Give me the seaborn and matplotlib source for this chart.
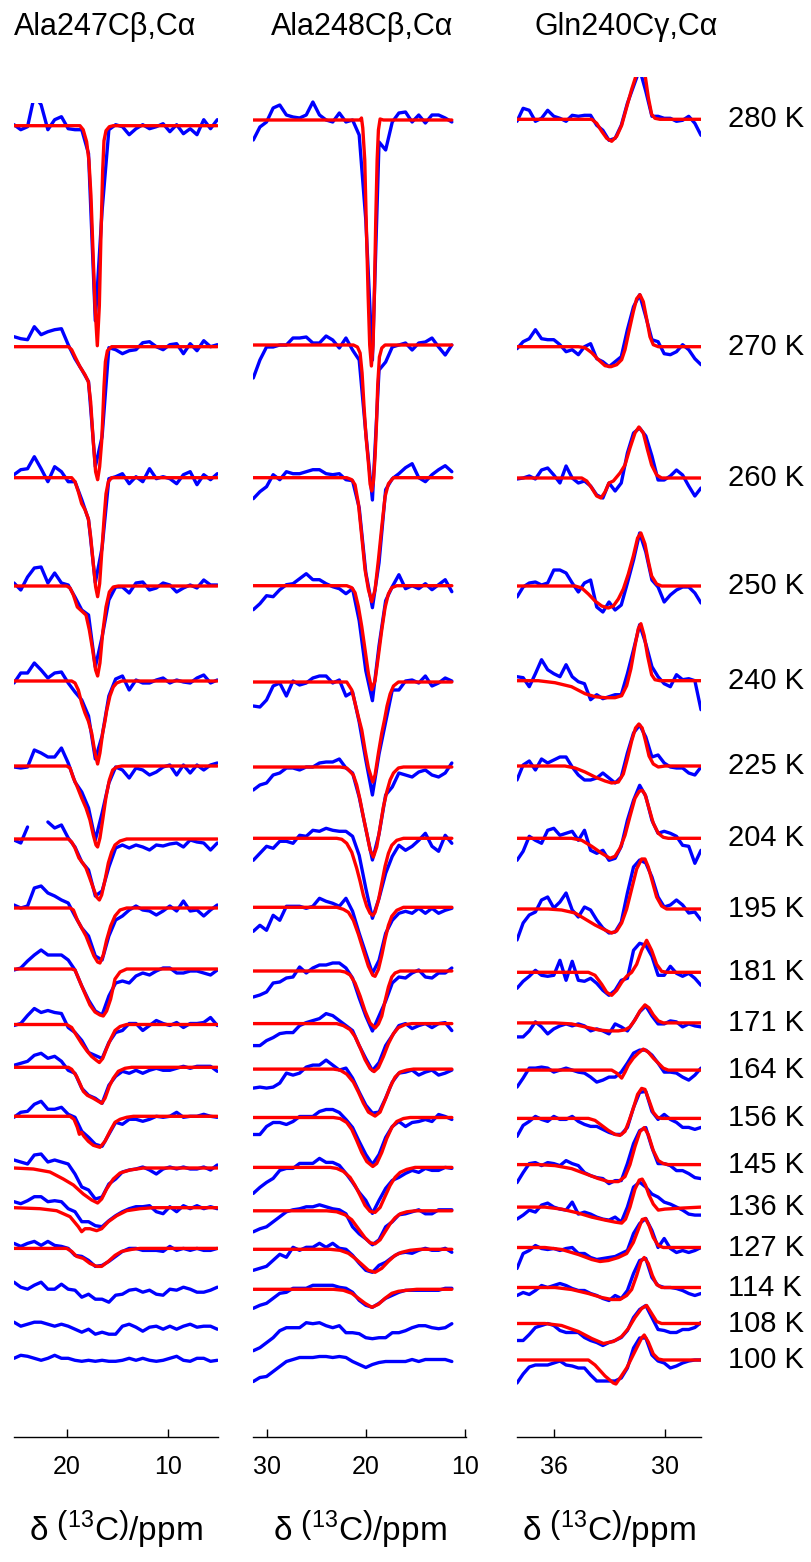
import numpy as np
import pandas as pd
import seaborn as sns
import matplotlib.pyplot as plt

# temperatures of the stacked spectra, top to bottom
temps = [280, 270, 260, 250, 240, 225, 204, 195, 181, 171, 164, 156, 145, 136, 127, 114, 108, 100]

titles = ['Ala247Cβ,Cα', 'Ala248Cβ,Cα', 'Gln240Cγ,Cα']

# chemical shift grids of the measured spectra (ppm)
ppm_ala247 = np.linspace(25.25, 5.12, 31)
ppm_ala248 = np.linspace(31.37, 11.33, 31)
ppm_gln240 = np.linspace(38.0, 28.05, 31)

# measured spectra (blue), intensity relative to each trace's own baseline
ala247_spec = [
    [1, -4, -1, 30, 21, -4, 6, 9, -3, -4, -4, -28, -195, -85, -4, 1, -1, -9, -3, 1, -3, -1, 2, -6, 1, -8, -3, -9, 6, -3, 6],
    [10, 8, 7, 20, 12, 15, 17, 18, 2, -12, -23, -35, -120, -90, -1, -3, -7, -4, -3, 4, 5, 0, -3, 2, 3, -7, 3, -4, 6, 0, 2],
    [3, 8, 9, 21, 9, -4, 11, 6, -4, -4, -22, -42, -105, -70, -1, 1, 4, -6, 1, -4, 9, -1, 1, -1, -6, 3, 6, -7, 3, -2, 4],
    [3, -4, 9, 18, 19, 3, 13, 3, 1, -11, -24, -29, -81, -51, -14, -1, -1, -7, 3, 4, -4, -2, 3, 1, -6, -2, 1, -2, 6, 1, 1],
    [-2, 8, 8, 18, 11, 3, 8, 9, -2, -11, -19, -35, -78, -55, -15, 2, 5, -9, 1, -2, -2, 1, 3, -2, 1, -1, -2, 3, 6, -2, 1],
    [-1, -2, -1, 16, 13, 9, 9, 18, 3, -16, -26, -42, -74, -47, -17, -1, -4, -12, -2, -4, -9, -6, -1, 1, -9, 1, -7, 1, -4, 1, 3],
    [-1, -4, 12, np.nan, np.nan, 17, 11, 14, 1, -8, -23, -31, -57, -52, -28, -9, -6, -9, -6, -8, -11, -6, -7, -5, -4, -8, -1, -3, -4, -11, -4],
    [3, 0, 2, 20, 22, 15, 12, 8, 5, -8, -20, -28, -48, -52, -28, -12, -8, -2, 2, -2, -3, -7, -3, 2, -3, 7, -3, -2, -8, -2, 3],
    [-1, 1, 8, 14, 19, 14, 14, 14, 9, -1, -17, -31, -42, -46, -27, -14, -12, -14, -7, -4, -6, -2, 1, 1, -4, -4, -2, -2, -4, -6, -1],
    [-1, 1, 9, 16, 12, 14, 12, 11, -3, -8, -16, -28, -31, -34, -18, -8, -6, 1, 1, -6, -1, 4, 1, -1, 2, -3, 1, 1, 2, 7, -1],
    [2, 4, 6, 12, 14, 9, 11, 6, -3, -6, -21, -28, -31, -36, -18, -9, -4, -6, -3, -6, -3, -1, -3, -3, -1, 1, -1, 1, 1, 1, -4],
    [-1, 4, 5, 12, 15, 7, 7, 9, 2, -1, -15, -21, -28, -30, -18, -6, -8, -3, -3, -5, -3, 0, -1, 0, 4, -1, 0, 0, 2, 0, -1],
    [8, 6, 4, 13, 14, 6, 8, 6, 4, -6, -19, -22, -31, -29, -16, -11, -4, -2, -1, 1, -2, -6, -1, 1, -1, 1, -1, -1, 1, -2, 3],
    [6, 4, 7, 11, 11, 6, 7, 6, -1, -4, -14, -14, -18, -19, -13, -8, -4, -1, 1, 1, 2, -4, -6, 1, -4, 2, -1, 2, -1, 1, -1],
    [5, 2, 5, 7, 3, 7, 3, 2, 0, -7, -8, -12, -18, -17, -13, -8, -3, 0, 0, -2, -2, -2, -3, 2, -2, 0, -2, 0, -2, -2, 0],
    [5, 0, -2, 2, 5, -2, -2, 3, -2, -3, -10, -7, -12, -12, -15, -8, -7, -3, -2, -5, -3, -7, -8, -2, -3, 0, -2, -5, -5, -3, 0],
    [2, -2, 0, 2, 2, 0, -2, 0, -2, -5, -8, -5, -10, -8, -10, -10, -2, 0, -3, -7, -3, -2, -5, -2, -5, -2, 0, -3, -2, -2, -5],
    [0, 3, 2, 0, -2, 0, 3, 0, 0, -2, -3, -2, -3, -2, -3, -3, -2, 0, -2, 0, -2, -3, -2, 0, 2, -2, -3, 0, 0, -3, -2],
]

ala248_spec = [
    [-20, -7, -2, 12, 15, 5, 3, 2, 5, 18, 5, 0, -2, 7, -2, 0, -15, -100, -240, -22, -30, -2, 7, 8, -2, 5, -3, 5, 5, 2, -2],
    [-33, -15, -2, -2, 0, 0, 7, 7, 8, 2, 2, 9, 5, -3, 7, -5, -15, -88, -155, -25, -17, -2, 0, 2, -5, 2, 3, 7, -2, -10, 0],
    [-21, -14, -9, 3, -2, 6, 4, 4, 6, 8, 8, 4, 3, 4, -2, -3, -30, -95, -130, -85, -12, -1, 4, 10, 14, 0, -4, 3, 8, 12, 6],
    [-24, -18, -10, -11, -4, 1, 2, 7, 12, 6, 6, 2, -1, -3, -8, -3, -35, -85, -115, -60, -15, -1, 11, -3, 0, -3, 2, -4, 1, 6, -6],
    [-24, -25, -18, -4, -1, -14, 1, -3, -1, 4, 6, 6, -1, 2, -14, -10, -40, -78, -113, -72, -40, -8, -8, 1, 2, -1, 6, -4, -1, 4, 1],
    [-23, -18, -16, -8, -6, -1, -1, -3, 0, 0, 4, 5, 5, 8, -1, -6, -30, -62, -93, -67, -28, -20, -6, -8, -10, -5, -3, -8, -10, -6, 4],
    [-22, -15, -8, -10, -3, -3, -5, 3, 2, 8, 7, 10, 8, 7, 7, 2, -17, -50, -80, -60, -35, -18, -7, -12, -8, -2, 5, -8, -13, 3, -5],
    [-24, -18, -23, -8, -13, 1, 1, 1, -1, 1, 9, 6, 4, 1, 9, -4, -26, -46, -66, -53, -26, -13, -6, -4, -6, -1, -6, -1, -6, -3, -1],
    [-26, -24, -21, -12, -11, -7, -6, 4, -2, 3, 6, 6, 8, 8, 3, -7, -27, -45, -60, -45, -30, -12, -6, -7, -2, 1, -6, -7, -2, -2, 3],
    [-22, -22, -17, -14, -10, -9, -9, -2, 1, 3, 5, 10, 8, 3, -2, -7, -22, -35, -47, -39, -22, -12, -2, 0, -5, -2, 0, -4, 0, 1, -7],
    [-19, -18, -19, -18, -14, -4, -6, -4, 2, 4, 4, 9, 4, -1, 1, -9, -23, -36, -44, -43, -29, -13, -4, -3, -1, -6, -3, -1, -6, -4, -1],
    [-17, -17, -9, -5, -5, -7, -4, 1, 1, 1, 6, 8, 8, 5, -2, -10, -24, -37, -47, -37, -20, -9, -4, -9, -5, -4, -2, -4, 3, 1, -2],
    [-26, -20, -15, -11, -3, -1, -1, 4, 4, 4, 9, 5, 5, 2, -6, -15, -25, -33, -46, -33, -21, -13, -10, -6, -3, -5, -1, -3, -3, 0, -1],
    [-21, -18, -16, -11, -6, -1, 1, 2, 4, 4, 6, 4, 2, 1, -3, -16, -23, -28, -34, -29, -16, -11, -4, -3, -1, 1, -3, -3, 1, 1, 1],
    [-21, -19, -17, -11, -5, -8, 2, -1, 2, 2, 6, 2, 6, 1, 0, -6, -14, -21, -23, -16, -13, -8, -4, -3, -4, -1, 1, -1, -1, 1, -3],
    [-19, -16, -14, -9, -4, -3, 1, 1, 1, 4, 4, 4, 4, 2, 1, -3, -11, -16, -18, -14, -9, -6, -3, -1, -1, -1, -1, -1, -1, 1, 1],
    [-25, -22, -17, -12, -5, -2, -2, -2, 3, 2, 3, 0, -2, 0, -7, -7, -8, -12, -13, -12, -12, -7, -7, -5, -2, 0, 0, -2, -3, -2, 2],
    [-22, -18, -17, -12, -7, -2, 0, 2, 2, 2, 3, 3, 2, 3, 2, -2, -5, -8, -5, -3, -2, -2, -2, -2, 0, -2, 0, 0, 0, 0, -2],
]

gln240_spec = [
    [-2, 11, 9, -2, 1, 9, 3, 1, -2, 4, 3, 4, 4, -6, -11, -21, -19, -6, 16, 33, 50, 28, 3, 3, 1, 1, -2, -1, 3, -4, -16],
    [-2, 5, 8, 17, 8, 7, 7, 2, -5, -3, -8, 0, 3, -12, -15, -20, -15, -10, 17, 40, 52, 30, 7, 5, -7, -8, -5, 2, -3, -12, -18],
    [-1, 0, 2, -1, 8, 10, 3, -5, 12, 0, -5, -3, -8, -17, -20, -5, -13, -5, 25, 45, 50, 42, 22, -2, -2, 2, 8, 3, -8, -18, -10],
    [-11, -1, 3, 4, 1, 3, 16, 16, 13, 3, -6, 3, 6, -21, -26, -16, -24, -19, 3, 26, 53, 34, 6, -1, -16, -9, -4, -1, -1, -7, -17],
    [4, 3, -6, 7, 21, 11, 7, 4, 16, 4, -1, -3, -19, -14, -18, -16, -14, -14, 7, 31, 56, 37, 14, 4, -3, -6, 6, 1, 2, 0, -29],
    [-14, 1, 5, -4, 7, 3, 6, 9, 9, -1, -9, -14, -14, -12, -7, -12, -17, -11, 13, 33, 41, 29, 9, 11, 3, -1, -2, -2, -7, -9, -1],
    [-22, -13, 2, -2, -5, 8, 10, 3, 5, 7, -2, 8, -12, -15, -12, -22, -20, -8, 18, 38, 53, 42, 18, 5, 7, 5, 2, -7, -8, -25, -12],
    [-31, -14, -6, -3, 9, 12, 1, 7, 16, -1, -8, 2, -1, -11, -19, -24, -23, -13, 16, 42, 49, 46, 32, 12, 2, 4, 9, 4, -4, -3, -11],
    [-16, -9, -4, 2, -3, -4, -3, 12, -8, 11, -8, -9, -6, -11, -18, -23, -18, -8, -6, 22, 29, 27, 16, -3, -3, 6, -1, -4, -1, -6, -13],
    [-14, -14, -8, 1, -4, -11, -6, -3, -1, -3, -1, -3, -8, -6, -8, -11, -1, -4, -8, 1, 11, 17, 7, -1, -1, 2, 1, -4, -1, -3, -4],
    [-17, -8, 2, 2, 3, 2, -2, 0, 2, 0, -2, -3, -7, -12, -10, -7, -7, -2, 7, 17, 20, 20, 15, 7, -2, -2, -3, -7, -10, -5, 2],
    [-18, -7, -3, 2, -1, -3, 2, -1, -1, 2, -3, -6, -8, -8, -11, -14, -16, -16, -9, 11, 26, 27, 7, -1, 4, -1, -4, -9, -9, -11, -9],
    [-18, -8, 1, 2, -1, 2, 1, -1, 4, 1, -1, -8, -11, -13, -14, -19, -16, -16, 1, 21, 34, 37, 17, 1, 1, -1, -6, -6, -9, -13, -14],
    [-12, -8, -3, -5, 2, 4, 0, -2, -3, 5, -7, -5, -7, -10, -12, -13, -10, -15, 0, 20, 25, 20, 13, 10, 5, 3, 0, -3, -7, -8, -8],
    [-21, -6, -3, 2, -1, -2, -1, -3, -1, 0, -6, -6, -10, -12, -11, -10, -9, -6, -3, 14, 24, 29, 17, 0, 9, -1, -5, -3, -5, -3, 0],
    [-8, -5, -7, -3, 2, 0, 2, 4, 2, -1, -3, -3, -6, -8, -11, -13, -8, -11, -3, 14, 27, 29, 10, 2, 0, 0, -1, -3, -6, -8, -6],
    [-17, -17, -11, -4, -2, 0, -2, -7, -9, -9, -9, -14, -17, -19, -22, -19, -17, -14, -7, 6, 14, 18, 6, -6, -7, -9, -9, -6, -6, -4, 1],
    [-23, -14, -7, -5, -5, -5, -3, -1, -5, -6, -8, -8, -15, -21, -21, -21, -21, -18, -8, 12, 22, 22, 5, -1, -3, -8, -6, -3, -1, 0, 0],
]

# fitted line shapes (red) as (ppm, intensity) points; Ala247 to 127 K, Ala248 to 114 K
ala247_fit = [
    [(25.25, 0), (18.72, 0), (18.4, -4), (18.06, -16), (17.83, -35), (17.63, -70), (17.43, -125), (17.23, -180), (17.0, -220), (16.8, -180), (16.64, -110), (16.47, -45), (16.34, -15), (16.14, -5), (15.81, -1), (15.42, 0), (5.12, 0)],
    [(25.25, 0), (19.87, 0), (19.54, -3), (19.21, -10), (18.72, -20), (18.22, -28), (17.89, -35), (17.66, -55), (17.4, -95), (17.17, -125), (16.97, -133), (16.77, -120), (16.57, -95), (16.47, -73), (16.34, -40), (16.2, -15), (16.0, -4), (15.58, 0), (5.12, 0)],
    [(25.25, 0), (19.54, 0), (19.21, -4), (18.88, -14), (18.55, -26), (18.22, -32), (17.89, -41), (17.66, -59), (17.4, -86), (17.17, -109), (16.97, -119), (16.77, -106), (16.57, -76), (16.34, -42), (16.14, -16), (15.91, -4), (15.58, 0), (5.12, 0)],
    [(25.25, 0), (20.04, 0), (19.7, -2), (19.37, -9), (18.98, -21), (18.55, -25), (18.12, -29), (17.79, -44), (17.46, -64), (17.17, -84), (16.97, -90), (16.74, -77), (16.47, -47), (16.14, -21), (15.81, -6), (15.42, -1), (14.92, 0), (5.12, 0)],
    [(25.25, 0), (19.54, 0), (19.21, -2), (18.88, -9), (18.55, -22), (18.22, -32), (17.89, -40), (17.56, -52), (17.23, -72), (16.97, -83), (16.74, -72), (16.47, -52), (16.24, -40), (16.08, -30), (15.75, -15), (15.42, -6), (15.08, -2), (14.59, 0), (5.12, 0)],
    [(25.25, 0), (20.04, 0), (19.7, -2), (19.37, -12), (18.98, -21), (18.55, -32), (18.12, -42), (17.73, -54), (17.4, -69), (17.13, -79), (16.97, -81), (16.74, -72), (16.47, -54), (16.14, -31), (15.81, -14), (15.48, -4), (15.08, -1), (14.59, 0), (5.12, 0)],
    [(25.25, 0), (19.87, 0), (19.54, -3), (19.21, -9), (18.82, -19), (18.45, -24), (18.12, -29), (17.79, -38), (17.4, -49), (17.07, -58), (16.8, -61), (16.57, -56), (16.24, -41), (15.91, -24), (15.58, -13), (15.25, -6), (14.75, -2), (14.09, 0), (5.12, 0)],
    [(25.25, 0), (19.7, 0), (19.37, -2), (18.98, -12), (18.55, -20), (18.12, -28), (17.73, -38), (17.33, -48), (16.97, -54), (16.74, -55), (16.41, -47), (16.08, -32), (15.68, -18), (15.25, -8), (14.75, -2), (14.09, 0), (5.12, 0)],
    [(25.25, 0), (19.54, 0), (19.21, -1), (18.88, -9), (18.55, -17), (18.12, -27), (17.73, -36), (17.23, -43), (16.74, -46), (16.41, -47), (16.08, -42), (15.68, -30), (15.25, -10), (14.75, -3), (14.09, 0), (5.12, 0)],
    [(25.25, 0), (20.04, 0), (19.54, -3), (19.05, -11), (18.55, -19), (18.06, -26), (17.56, -32), (17.07, -36), (16.8, -38), (16.47, -34), (16.08, -24), (15.65, -14), (15.25, -6), (14.75, -2), (14.09, 0), (5.12, 0)],
    [(25.25, 0), (19.87, 0), (19.54, -2), (19.05, -9), (18.65, -18), (18.39, -24), (17.99, -28), (17.4, -31), (16.9, -34), (16.57, -36), (16.24, -31), (15.81, -19), (15.42, -11), (14.92, -4), (14.26, -1), (13.6, 0), (5.12, 0)],
    [(25.25, 0), (19.7, 0), (19.31, -3), (18.98, -11), (18.78, -18), (18.58, -16), (18.32, -20), (17.89, -25), (17.4, -29), (16.74, -31), (16.24, -25), (15.75, -15), (15.25, -6), (14.75, -3), (14.1, -1), (13.43, 0), (5.12, 0)],
    [(25.25, 0), (23.34, -1), (21.69, -4), (20.37, -11), (19.37, -17), (18.39, -26), (17.56, -32), (16.97, -35), (16.57, -31), (16.08, -21), (15.42, -11), (14.75, -5), (13.76, -2), (12.44, 0), (5.12, 0)],
    [(25.25, 0), (22.68, -1), (21.03, -3), (19.7, -9), (18.88, -19), (18.55, -24), (18.22, -21), (17.73, -21), (17.07, -23), (16.57, -21), (15.91, -14), (15.08, -8), (14.09, -3), (12.77, -1), (11.45, 0), (5.12, 0)],
    [(25.25, 0), (20.04, 0), (19.54, -3), (19.05, -8), (18.39, -10), (17.73, -15), (17.07, -18), (16.57, -18), (15.91, -13), (15.25, -7), (14.59, -3), (13.6, -1), (12.77, 0), (5.12, 0)],
]

ala248_fit = [
    [(31.37, 0), (20.59, 0), (20.45, 2), (20.32, -8), (20.12, -40), (19.95, -110), (19.78, -175), (19.62, -225), (19.45, -246), (19.28, -225), (19.14, -170), (19.01, -100), (18.87, -40), (18.74, -10), (18.57, 1), (18.24, 0), (11.33, 0)],
    [(31.37, 0), (21.27, 0), (20.86, -2), (20.59, -8), (20.39, -28), (20.19, -62), (19.99, -92), (19.75, -118), (19.58, -139), (19.41, -146), (19.25, -137), (19.08, -112), (18.94, -80), (18.81, -40), (18.64, -12), (18.4, -3), (18.07, 0), (11.33, 0)],
    [(31.37, 0), (21.94, 0), (21.43, -2), (21.1, -7), (20.76, -26), (20.42, -59), (20.09, -92), (19.75, -112), (19.41, -124), (19.08, -112), (18.74, -82), (18.4, -49), (18.07, -19), (17.73, -6), (17.22, 0), (11.33, 0)],
    [(31.37, 0), (21.94, 0), (21.43, -2), (21.1, -7), (20.76, -21), (20.42, -41), (20.09, -64), (19.75, -88), (19.41, -104), (19.08, -95), (18.74, -70), (18.4, -44), (18.07, -22), (17.73, -8), (17.39, -2), (16.89, 0), (11.33, 0)],
    [(31.37, 0), (21.94, 0), (21.43, -8), (21.1, -21), (20.76, -35), (20.42, -48), (20.09, -68), (19.75, -86), (19.31, -100), (19.08, -93), (18.74, -71), (18.4, -51), (18.13, -38), (17.87, -24), (17.56, -12), (17.22, -4), (16.72, 0), (11.33, 0)],
    [(31.37, 0), (22.61, 0), (21.94, -1), (21.27, -8), (20.93, -18), (20.59, -33), (20.26, -50), (19.92, -66), (19.58, -83), (19.25, -90), (18.91, -80), (18.57, -60), (18.24, -40), (17.9, -25), (17.56, -13), (17.22, -6), (16.72, -1), (16.21, 0), (11.33, 0)],
    [(31.37, 0), (22.95, 0), (22.44, -1), (21.94, -5), (21.43, -14), (20.93, -30), (20.59, -43), (20.26, -57), (19.92, -68), (19.58, -75), (19.31, -77), (19.08, -74), (18.74, -62), (18.4, -45), (18.07, -28), (17.73, -15), (17.39, -7), (16.89, -2), (16.21, 0), (11.33, 0)],
    [(31.37, 0), (22.95, 0), (22.28, -2), (21.77, -5), (21.27, -13), (20.76, -27), (20.26, -43), (19.75, -59), (19.31, -68), (19.08, -69), (18.74, -62), (18.4, -48), (18.07, -32), (17.73, -18), (17.39, -9), (16.89, -3), (16.21, 0), (11.33, 0)],
    [(31.37, 0), (22.61, 0), (22.11, -1), (21.6, -4), (21.1, -12), (20.59, -25), (20.09, -40), (19.58, -52), (19.08, -57), (18.74, -53), (18.4, -45), (18.07, -30), (17.73, -16), (17.39, -6), (17.06, -2), (16.55, 0), (11.33, 0)],
    [(31.37, 0), (22.95, 0), (22.28, -2), (21.6, -6), (21.1, -13), (20.59, -24), (20.09, -36), (19.58, -45), (19.18, -48), (18.74, -44), (18.24, -33), (17.73, -20), (17.22, -10), (16.72, -4), (16.05, -1), (15.37, 0), (11.33, 0)],
    [(31.37, 0), (23.29, 0), (22.61, -1), (21.94, -5), (21.27, -13), (20.76, -23), (20.26, -34), (19.75, -43), (19.08, -47), (18.57, -43), (18.07, -31), (17.56, -18), (17.06, -8), (16.55, -3), (15.88, -1), (15.2, 0), (11.33, 0)],
    [(31.37, 0), (23.29, 0), (22.61, -1), (21.94, -5), (21.43, -12), (20.93, -23), (20.42, -35), (19.92, -44), (19.31, -49), (18.91, -46), (18.4, -35), (17.9, -21), (17.39, -10), (16.89, -4), (16.21, -1), (15.54, 0), (11.33, 0)],
    [(31.37, 0), (23.62, 0), (22.95, -1), (22.28, -4), (21.6, -10), (21.1, -18), (20.59, -28), (20.09, -38), (19.58, -44), (19.08, -45), (18.57, -40), (18.07, -29), (17.56, -18), (17.06, -10), (16.55, -5), (15.88, -2), (15.04, 0), (11.33, 0)],
    [(31.37, 0), (23.96, 0), (22.95, -1), (22.11, -4), (21.43, -9), (20.76, -18), (20.09, -27), (19.58, -32), (19.08, -33), (18.57, -29), (18.07, -21), (17.56, -13), (17.06, -7), (16.55, -3), (15.88, -1), (15.04, 0), (11.33, 0)],
    [(31.37, 0), (23.62, 0), (22.61, -1), (21.77, -4), (21.1, -9), (20.42, -15), (19.75, -21), (19.08, -23), (18.4, -19), (17.73, -12), (17.06, -6), (16.38, -3), (15.54, -1), (14.53, 0), (11.33, 0)],
    [(31.37, 0), (23.29, 0), (22.28, -1), (21.43, -4), (20.76, -9), (20.09, -14), (19.41, -18), (18.74, -15), (18.07, -9), (17.39, -4), (16.72, -2), (15.88, -1), (14.87, 0), (11.33, 0)],
]

gln240_fit = [
    [(38.0, 0), (33.96, 0), (33.69, -4), (33.42, -12), (33.15, -19), (32.88, -22), (32.61, -17), (32.34, -6), (32.07, 12), (31.8, 30), (31.59, 42), (31.44, 52), (31.26, 58), (31.08, 45), (30.9, 22), (30.72, 5), (30.54, 1), (30.27, 0), (28.05, 0)],
    [(38.0, 0), (34.68, 0), (34.32, -1), (33.96, -6), (33.6, -13), (33.24, -19), (32.92, -20), (32.61, -18), (32.34, -13), (32.16, -3), (31.95, 15), (31.71, 35), (31.53, 48), (31.35, 52), (31.17, 45), (30.99, 28), (30.81, 10), (30.63, 2), (30.36, 0), (28.05, 0)],
    [(38.0, 0), (34.5, 0), (34.23, -3), (33.96, -10), (33.69, -18), (33.46, -20), (33.24, -14), (33.03, -5), (32.79, -3), (32.43, 5), (32.16, 13), (31.89, 30), (31.62, 45), (31.41, 51), (31.17, 45), (30.94, 28), (30.72, 13), (30.45, 3), (30.18, 0), (28.05, 0)],
    [(38.0, 0), (34.86, 0), (34.5, -2), (34.14, -8), (33.78, -15), (33.42, -20), (33.06, -22), (32.79, -20), (32.52, -13), (32.25, -3), (31.98, 12), (31.71, 30), (31.48, 48), (31.3, 53), (31.08, 42), (30.9, 25), (30.72, 10), (30.45, 2), (30.18, 0), (28.05, 0)],
    [(38.0, 0), (36.85, 0), (35.95, -2), (35.05, -6), (34.32, -13), (33.78, -16), (33.24, -17), (32.7, -17), (32.34, -15), (32.07, -5), (31.84, 12), (31.62, 35), (31.44, 52), (31.3, 57), (31.12, 45), (30.94, 25), (30.72, 6), (30.54, 1), (30.27, 0), (28.05, 0)],
    [(38.0, 0), (35.41, 0), (34.86, -2), (34.32, -6), (33.78, -11), (33.24, -15), (32.88, -17), (32.52, -16), (32.25, -8), (32.02, 8), (31.8, 25), (31.59, 38), (31.41, 42), (31.23, 38), (31.05, 25), (30.86, 10), (30.63, 2), (30.36, -1), (30.0, 0), (28.05, 0)],
    [(38.0, 0), (35.05, 0), (34.5, -2), (33.96, -8), (33.42, -15), (32.97, -20), (32.7, -18), (32.43, -10), (32.16, 3), (31.89, 22), (31.62, 40), (31.39, 47), (31.23, 48), (31.08, 44), (30.86, 30), (30.63, 15), (30.36, 5), (30.09, 1), (29.82, 0), (28.05, 0)],
    [(38.0, 0), (36.31, 0), (35.59, -1), (34.86, -4), (34.32, -10), (33.78, -16), (33.24, -21), (32.88, -24), (32.61, -22), (32.34, -14), (32.07, 0), (31.8, 20), (31.53, 40), (31.26, 50), (31.08, 50), (30.9, 42), (30.72, 30), (30.45, 12), (30.18, 3), (29.91, 0), (28.05, 0)],
    [(38.0, 0), (34.14, 0), (33.78, -3), (33.42, -12), (33.15, -20), (32.88, -23), (32.61, -18), (32.34, -10), (32.07, -4), (31.8, 0), (31.53, 8), (31.26, 22), (30.99, 32), (30.72, 22), (30.45, 8), (30.18, 1), (29.91, 0), (28.05, 0)],
    [(38.0, 0), (35.95, 0), (35.05, -1), (34.32, -4), (33.6, -7), (33.06, -8), (32.52, -8), (32.16, -7), (31.89, -4), (31.62, 3), (31.35, 12), (31.08, 18), (30.86, 15), (30.63, 8), (30.36, 2), (30.09, 0), (28.05, 0)],
    [(38.0, 0), (32.88, 0), (32.61, -3), (32.34, -8), (32.16, -2), (31.98, 5), (31.71, 12), (31.44, 17), (31.17, 21), (30.9, 18), (30.63, 12), (30.36, 7), (30.09, 2), (29.82, 0), (28.05, 0)],
    [(38.0, 0), (34.14, 0), (33.78, -2), (33.42, -7), (33.06, -12), (32.7, -16), (32.43, -17), (32.16, -13), (31.95, -3), (31.71, 10), (31.48, 24), (31.26, 30), (31.08, 29), (30.86, 18), (30.63, 6), (30.4, 1), (30.18, 0), (28.05, 0)],
    [(38.0, 0), (36.85, 0), (35.95, -1), (35.05, -4), (34.32, -9), (33.6, -14), (33.06, -17), (32.52, -17), (32.16, -12), (31.89, 0), (31.62, 18), (31.35, 33), (31.12, 37), (30.9, 30), (30.63, 14), (30.36, 4), (30.09, 1), (29.82, 0), (28.05, 0)],
    [(38.0, 0), (36.49, 0), (35.59, -2), (34.68, -6), (33.96, -10), (33.24, -13), (32.7, -15), (32.34, -16), (32.13, -12), (31.89, 0), (31.62, 18), (31.39, 27), (31.23, 28), (31.05, 22), (30.86, 12), (30.63, 3), (30.36, -3), (30.0, -2), (29.1, -1), (28.05, 0)],
    [(38.0, 0), (36.49, 0), (35.59, -2), (34.68, -7), (33.96, -12), (33.51, -14), (33.06, -13), (32.52, -10), (32.07, -6), (31.71, 5), (31.44, 18), (31.23, 28), (31.05, 29), (30.86, 22), (30.63, 10), (30.36, 2), (30.09, 0), (28.05, 0)],
    [(38.0, 0), (35.95, 0), (35.05, -2), (34.14, -6), (33.42, -10), (32.88, -12), (32.43, -12), (32.07, -8), (31.8, -2), (31.53, 12), (31.3, 26), (31.12, 30), (30.9, 24), (30.68, 12), (30.45, 3), (30.18, 0), (28.05, 0)],
    [(38.0, 0), (36.49, 0), (35.59, -2), (34.68, -8), (33.96, -15), (33.33, -20), (32.79, -18), (32.34, -13), (31.98, -5), (31.62, 6), (31.26, 15), (30.99, 18), (30.72, 10), (30.45, 2), (30.18, 0), (28.05, 0)],
    [(38.0, 0), (34.14, 0), (33.78, -5), (33.24, -16), (32.79, -23), (32.65, -24), (32.43, -18), (32.07, -8), (31.8, 2), (31.53, 12), (31.26, 22), (31.12, 25), (30.9, 18), (30.63, 6), (30.36, 1), (30.09, 0), (28.05, 0)],
]

# vertical stacking offsets of the traces (same units as the intensities)
offsets_ala247 = [125.7, 346.7, 477.7, 586, 681, 766, 839, 908, 969, 1024.5, 1067.3, 1116.3, 1168, 1207.7, 1248.4, 1287.2, 1324.2, 1358.3]
offsets_ala248 = [120, 345, 477.7, 585.7, 682, 767, 838.3, 907.3, 971, 1023.6, 1069.1, 1117.5, 1167.4, 1210.8, 1249.3, 1289.3, 1325.7, 1359.5]
offsets_gln240 = [119.3, 346.7, 478, 586, 680.7, 766, 838.3, 909, 972.3, 1022.9, 1070.1, 1118.4, 1164.6, 1207.1, 1247.5, 1287.5, 1323.5, 1360]

xticks = [[20, 10], [30, 20, 10], [36, 30]]


def spectra_frame(ppm, rows, offsets):
    parts = []
    for i, (vals, off) in enumerate(zip(rows, offsets)):
        vals = np.asarray(vals, dtype=float)
        seg = np.cumsum(np.isnan(vals))
        ok = ~np.isnan(vals)
        parts.append(pd.DataFrame({'ppm': ppm[ok], 'y': vals[ok] - off,
                                   'unit': [f'{i}-{s}' for s in seg[ok]]}))
    return pd.concat(parts, ignore_index=True)


def fit_frame(rows, offsets):
    parts = []
    for i, (pts, off) in enumerate(zip(rows, offsets)):
        pts = np.asarray(pts, dtype=float)
        parts.append(pd.DataFrame({'ppm': pts[:, 0], 'y': pts[:, 1] - off, 'unit': i}))
    return pd.concat(parts, ignore_index=True)


sns.set_theme(style='white')
plt.rcParams['font.family'] = ['Liberation Sans', 'DejaVu Sans']
plt.rcParams['mathtext.fontset'] = 'custom'
plt.rcParams['mathtext.rm'] = 'Liberation Sans'
plt.rcParams['mathtext.it'] = 'Liberation Sans:italic'
plt.rcParams['text.color'] = 'black'
plt.rcParams['axes.labelcolor'] = 'black'

W, H = 811, 1562
fig = plt.figure(figsize=(W / 100, H / 100), dpi=100)

bottom_px = 1437
panels = [
    # left px, right px, top px, xlim
    (14, 217.5, 103, (25.25, 5.1)),
    (253, 466, 77, (31.4, 9.9)),
    (517, 701, 77, (38.0, 28.05)),
]
title_x = [105, 362, 626]
specs = [(ppm_ala247, ala247_spec, ala247_fit, offsets_ala247),
         (ppm_ala248, ala248_spec, ala248_fit, offsets_ala248),
         (ppm_gln240, gln240_spec, gln240_fit, offsets_gln240)]

xlabel = '$\\mathregular{δ\\ \\left(^{13}C\\right)/ppm}$'

axes = []
for j, ((l, r, t, xl), (ppm, spec, fit, offs)) in enumerate(zip(panels, specs)):
    ax = fig.add_axes([l / W, 1 - bottom_px / H, (r - l) / W, (bottom_px - t) / H])
    blue = spectra_frame(ppm, spec, offs)
    red = fit_frame(fit, offs)
    sns.lineplot(data=blue, x='ppm', y='y', units='unit', estimator=None, sort=False,
                 color='#0000ff', lw=2.4, ax=ax)
    sns.lineplot(data=red, x='ppm', y='y', units='unit', estimator=None, sort=False,
                 color='#ff0000', lw=2.4, ax=ax)
    ax.set_xlim(*xl)
    ax.set_ylim(-bottom_px, -t)
    ax.set_xticks(xticks[j])
    ax.set_yticks([])
    for s in ['left', 'right', 'top']:
        ax.spines[s].set_visible(False)
    ax.spines['bottom'].set_color('black')
    ax.spines['bottom'].set_linewidth(1.0)
    ax.tick_params(axis='x', bottom=True, direction='in', length=6, width=1,
                   labelsize=18, pad=13, colors='black')
    ax.set_ylabel('')
    ax.set_xlabel(xlabel, fontsize=24, labelpad=21, color='black')
    ax.set_facecolor('none')
    fig.text(title_x[j] / W, 1 - 27 / H, titles[j], ha='center', va='center',
             fontsize=22, color='black')
    axes.append(ax)

# temperature labels next to the right-hand column
ax3 = axes[2]
for t, off in zip(temps, offsets_gln240):
    ax3.text((728 - 517) / (701 - 517), -off, f'{t} K', transform=ax3.get_yaxis_transform(),
             ha='left', va='center', fontsize=21, color='black')

fig.savefig('out.png', dpi=100)
